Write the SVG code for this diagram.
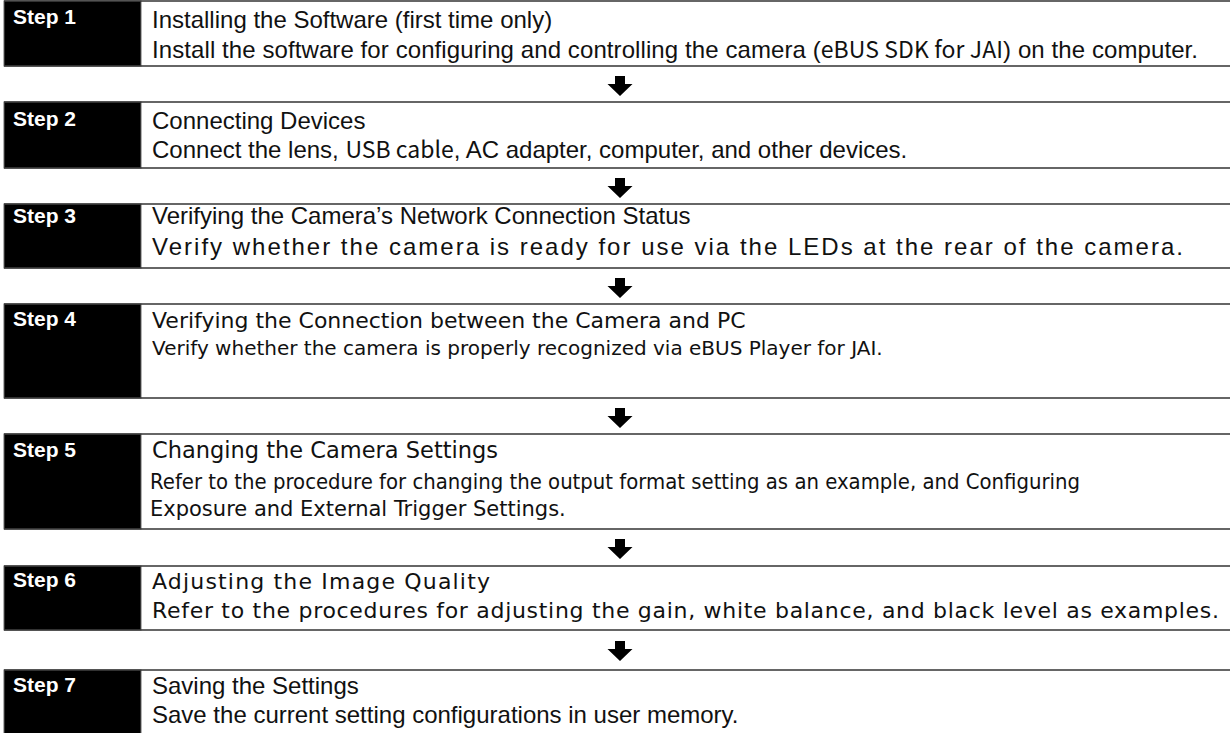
<svg xmlns="http://www.w3.org/2000/svg" width="1230" height="733" viewBox="0 0 1230 733">
<style>
.blk{fill:#000;stroke:#666;stroke-width:1}
.ln{stroke:#333;stroke-width:1.6}
.lbl{font-family:"Liberation Sans",Arial,sans-serif;font-weight:bold;font-size:21px;fill:#fff}
.t1{font-family:"Liberation Sans",Arial,sans-serif;font-size:24px;fill:#111}
.t2{font-family:"DejaVu Sans",Verdana,sans-serif;fill:#111}
.t3{font-family:"Noto Sans CJK JP",sans-serif;fill:#111}
.arw{fill:#000}
</style>
<defs>
<path id="arrow" d="M-5,0 H5 V8 H12.5 L0,20 L-12.5,8 H-5 Z"/>
</defs>
<rect width="1230" height="733" fill="#fff"/>
<g id="step1">
<rect class="blk" x="4" y="1" width="137" height="65"/>
<line class="ln" x1="4" y1="1" x2="1230" y2="1"/><line class="ln" x1="4" y1="66" x2="1230" y2="66"/>
<text class="lbl" x="13" y="24">Step 1</text>
<text class="t1" x="152" y="28">Installing the Software (first time only)</text>
<text class="t1" x="152" y="58" textLength="1046">Install the software for configuring and controlling the camera (<tspan class="t3" font-size="23">eBUS SDK for JAI</tspan>) on the computer.</text>
</g>
<g id="step2">
<rect class="blk" x="4" y="102" width="137" height="66"/>
<line class="ln" x1="4" y1="102" x2="1230" y2="102"/><line class="ln" x1="4" y1="168" x2="1230" y2="168"/>
<text class="lbl" x="13" y="126">Step 2</text>
<text class="t1" x="152" y="129">Connecting Devices</text>
<text class="t1" x="152" y="158">Connect the lens, <tspan class="t3" font-size="23">USB cable</tspan>, AC adapter, computer, and other devices.</text>
</g>
<g id="step3">
<rect class="blk" x="4" y="204" width="137" height="64"/>
<line class="ln" x1="4" y1="204" x2="1230" y2="204"/><line class="ln" x1="4" y1="268" x2="1230" y2="268"/>
<text class="lbl" x="13" y="223">Step 3</text>
<text class="t1" x="152" y="224">Verifying the Camera’s Network Connection Status</text>
<text class="t1" x="152" y="255" textLength="1031">Verify whether the camera is ready for use via the LEDs at the rear of the camera.</text>
</g>
<g id="step4">
<rect class="blk" x="4" y="304" width="137" height="94"/>
<line class="ln" x1="4" y1="304" x2="1230" y2="304"/><line class="ln" x1="4" y1="398" x2="1230" y2="398"/>
<text class="lbl" x="13" y="326">Step 4</text>
<text class="t2" x="152" y="328" font-size="22">Verifying the Connection between the Camera and PC</text>
<text class="t2" x="152" y="355" font-size="20">Verify whether the camera is properly recognized via eBUS Player for JAI.</text>
</g>
<g id="step5">
<rect class="blk" x="4" y="434" width="137" height="95"/>
<line class="ln" x1="4" y1="434" x2="1230" y2="434"/><line class="ln" x1="4" y1="529" x2="1230" y2="529"/>
<text class="lbl" x="13" y="457">Step 5</text>
<text class="t2" x="152" y="458" font-size="22.5">Changing the Camera Settings</text>
<text class="t2" x="150" y="489" font-size="21" textLength="930" lengthAdjust="spacingAndGlyphs">Refer to the procedure for changing the output format setting as an example, and Configuring</text>
<text class="t2" x="150" y="516" font-size="21">Exposure and External Trigger Settings.</text>
</g>
<g id="step6">
<rect class="blk" x="4" y="566" width="137" height="64"/>
<line class="ln" x1="4" y1="566" x2="1230" y2="566"/><line class="ln" x1="4" y1="630" x2="1230" y2="630"/>
<text class="lbl" x="13" y="587">Step 6</text>
<text class="t2" x="152" y="589" font-size="22" textLength="338">Adjusting the Image Quality</text>
<text class="t2" x="152" y="618" font-size="22" textLength="1067">Refer to the procedures for adjusting the gain, white balance, and black level as examples.</text>
</g>
<g id="step7">
<rect class="blk" x="4" y="670" width="137" height="70"/>
<line class="ln" x1="4" y1="670" x2="1230" y2="670"/>
<text class="lbl" x="13" y="692">Step 7</text>
<text class="t1" x="152" y="694">Saving the Settings</text>
<text class="t1" x="152" y="723">Save the current setting configurations in user memory.</text>
</g>
<g id="connectors" class="arw">
<use href="#arrow" x="620" y="76"/>
<use href="#arrow" x="620" y="178"/>
<use href="#arrow" x="620" y="278"/>
<use href="#arrow" x="620" y="408"/>
<use href="#arrow" x="620" y="539"/>
<use href="#arrow" x="620" y="641"/>
</g>
</svg>
